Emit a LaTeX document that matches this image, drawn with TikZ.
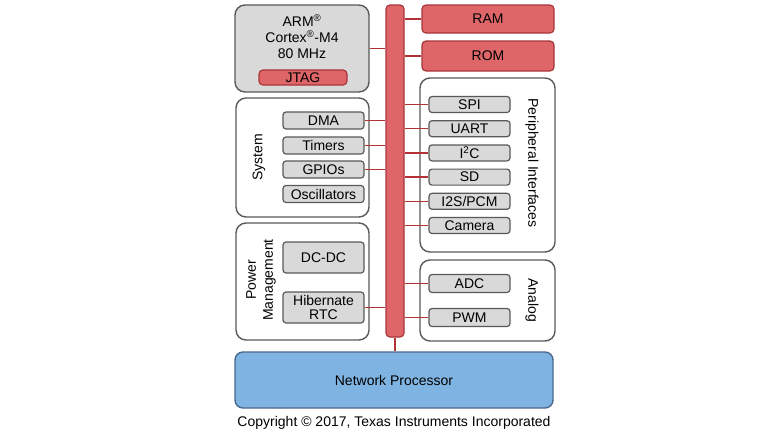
\documentclass[tikz,border=0pt]{standalone}
\usepackage{fontspec}
\setmainfont{Liberation Sans}
\definecolor{boxline}{RGB}{89,89,89}
\definecolor{unitgray}{RGB}{217,217,217}
\definecolor{memred}{RGB}{222,102,104}
\definecolor{memline}{RGB}{168,52,58}
\definecolor{wirered}{RGB}{178,50,56}
\definecolor{netblue}{RGB}{127,180,226}
\definecolor{netline}{RGB}{72,104,140}
\tikzset{
  box/.style={draw=boxline,line width=1.4pt,fill=white,rounded corners=10pt,inner sep=0pt},
  unit/.style={draw=boxline,line width=1.2pt,fill=unitgray,rounded corners=3pt,
    minimum width=81pt,minimum height=17pt,inner sep=0pt},
  mem/.style={draw=memline,line width=1.2pt,fill=memred,rounded corners=4pt,inner sep=0pt},
  wire/.style={draw=wirered,line width=1.4pt},
  lbl/.style={inner sep=0pt,align=center}
}
\begin{document}
\begin{tikzpicture}[x=1pt,y=-1pt,font=\fontsize{14}{16}\selectfont]
\useasboundingbox (0,0) rectangle (768,432);

\node[box,fill=unitgray,minimum width=134pt,minimum height=87pt] (cpu) at (302,48.5) {};
\node[lbl] (arm) at (302,37) {ARM\textsuperscript{®}\\Cortex\textsuperscript{®}-M4\\80 MHz};
\node[mem,minimum width=88pt,minimum height=15pt] (jtag) at (303,77.5) {JTAG};

\node[mem,minimum width=18pt,minimum height=332pt] (bus) at (395,171) {};
\node[mem,minimum width=132pt,minimum height=28pt] (ram) at (488,19) {RAM};
\node[mem,minimum width=132pt,minimum height=30pt] (rom) at (488,56) {ROM};

\node[box,minimum width=133pt,minimum height=119pt] (sys) at (302.5,157.5) {};
\node[lbl,rotate=90] (syslbl) at (259,157) {System};
\node[unit] (dma) at (323.5,120.5) {DMA};
\node[unit] (timers) at (323.5,145.5) {Timers};
\node[unit] (gpios) at (323.5,169.5) {GPIOs};
\node[unit] (osc) at (323.5,194) {Oscillators};

\node[box,minimum width=133pt,minimum height=117pt] (pwr) at (302.5,281.5) {};
\node[lbl,rotate=90,font=\fontsize{14}{17}\selectfont] (pwrlbl) at (261,280) {Power\\Management};
\node[unit,minimum height=31pt] (dcdc) at (323.5,257.5) {DC-DC};
\node[unit,minimum height=31pt,align=center,font=\fontsize{14}{14}\selectfont] (hib) at (323.5,307.5) {Hibernate\\RTC};

\node[box,minimum width=135pt,minimum height=174pt] (periph) at (487.5,165) {};
\node[lbl,rotate=-90] (periphlbl) at (532,163) {Peripheral Interfaces};
\node[unit,minimum height=16pt] (spi) at (469.5,104.5) {SPI};
\node[unit,minimum height=16pt] (uart) at (469.5,128.7) {UART};
\node[unit,minimum height=16pt] (i2c) at (469.5,152.9) {I\textsuperscript{2}C};
\node[unit,minimum height=16pt] (sd) at (469.5,177.1) {SD};
\node[unit,minimum height=16pt] (i2s) at (469.5,201.3) {I2S/PCM};
\node[unit,minimum height=16pt] (cam) at (469.5,225.5) {Camera};

\node[box,minimum width=135pt,minimum height=81pt] (analog) at (487.5,300.5) {};
\node[lbl,rotate=-90] (analoglbl) at (532,300) {Analog};
\node[unit,minimum height=18pt] (adc) at (469.5,283.5) {ADC};
\node[unit,minimum height=18pt] (pwm) at (469.5,317.5) {PWM};

\node[box,draw=netline,fill=netblue,rounded corners=8pt,minimum width=318pt,minimum height=56pt] (net) at (394,380) {Network Processor};
\node[lbl] (copy) at (394,423) {Copyright © 2017, Texas Instruments Incorporated};

\draw[wire] (cpu.east) -- (cpu.east -| bus.west);
\foreach \m in {ram,rom}
  \draw[wire] (\m.west -| bus.east) -- (\m.west);
\foreach \u in {dma,timers,gpios,hib}
  \draw[wire] (\u.east) -- (\u.east -| bus.west);
\foreach \u in {spi,uart,i2c,sd,i2s,cam,adc,pwm}
  \draw[wire] (\u.west -| bus.east) -- (\u.west);
\draw[wire] (bus.south) -- (bus.south |- net.north);
\end{tikzpicture}
\end{document}
